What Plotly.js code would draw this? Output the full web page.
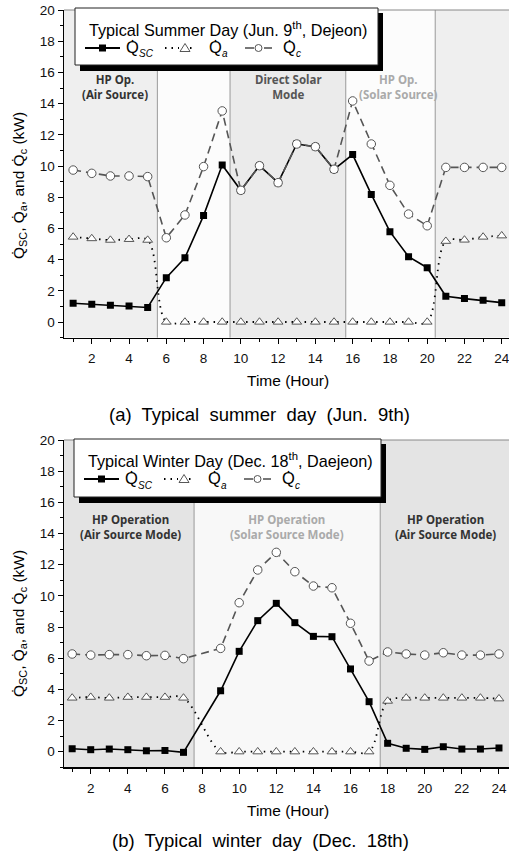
<!DOCTYPE html>
<html>
<head>
<meta charset="utf-8">
<script src="https://cdn.plot.ly/plotly-3.0.1.min.js"></script>
<style>html,body{margin:0;padding:0;background:#fff;}#chart{width:509px;height:858px;}</style>
</head>
<body>
<div id="chart"></div>
<script>
// ---------------- DATA ----------------
const summerHours = [1,2,3,4,5,6,7,8,9,10,11,12,13,14,15,16,17,18,19,20,21,22,23,24];
const summerQsc = [1.20,1.13,1.08,1.02,0.93,2.84,4.12,6.82,10.06,8.44,10.02,8.93,11.41,11.24,9.79,10.73,8.18,5.79,4.19,3.48,1.65,1.50,1.39,1.24];
const summerQa  = [5.45,5.35,5.25,5.30,5.25,0,0,0,0,0,0,0,0,0,0,0,0,0,0,0,5.18,5.26,5.45,5.53];
const summerQc  = [9.74,9.53,9.36,9.36,9.32,5.40,6.86,9.96,13.53,8.44,10.02,8.93,11.41,11.24,9.79,14.17,11.41,8.76,6.92,6.17,9.91,9.91,9.91,9.91];

const winterHours = [1,2,3,4,5,6,7,9,10,11,12,13,14,15,16,17,18,19,20,21,22,23,24];
const winterQsc = [0.19,0.13,0.17,0.13,0.06,0.08,-0.04,3.91,6.44,8.41,9.52,8.28,7.40,7.38,5.31,3.21,0.54,0.22,0.15,0.32,0.17,0.17,0.24];
const winterQa  = [3.45,3.50,3.45,3.50,3.50,3.50,3.45,0,0,0,0,0,0,0,0,0,3.25,3.45,3.45,3.45,3.45,3.45,3.40];
const winterQc  = [6.27,6.20,6.23,6.23,6.16,6.18,5.97,6.63,9.56,11.66,12.79,11.55,10.63,10.52,8.24,5.82,6.40,6.27,6.20,6.35,6.20,6.20,6.27];

const summerModes = [5.52, 9.42, 15.63, 20.43];   // mode switch hours
const winterModes = [7.57, 17.6];
const xTickVals = [2,4,6,8,10,12,14,16,18,20,22,24];

// ---------------- HELPERS ----------------
const W = 509, H = 858;
const PX = x => x / W;
const PY = y => 1 - y / H;
const FONT = 'Liberation Sans, Arial, sans-serif';
const BOLD = 'Noto Sans, Open Sans, sans-serif';
const Q = 'Q\u0307';

function series(xs, ys, xa, ya, kind) {
  const base = {x: xs, y: ys, xaxis: xa, yaxis: ya, mode: 'lines+markers', showlegend: false, hoverinfo: 'skip'};
  if (kind === 'sc') return Object.assign(base, {
    line: {color: '#000', width: 1.6},
    marker: {symbol: 'square', size: 7, color: '#000'}
  });
  if (kind === 'a') return Object.assign(base, {
    line: {color: '#000', width: 1.8, dash: '1.5px,5px', shape: 'spline', smoothing: 1},
    marker: {symbol: 'triangle-up', size: 8.5, color: '#fff', line: {color: '#444', width: 0.9}}
  });
  return Object.assign(base, {
    line: {color: '#555', width: 1.6, dash: '8px,5px'},
    marker: {symbol: 'circle', size: 8.5, color: '#fff', line: {color: '#555', width: 1}}
  });
}

const data = [
  series(summerHours, summerQsc, 'x', 'y', 'sc'),
  series(summerHours, summerQa, 'x', 'y', 'a'),
  series(summerHours, summerQc, 'x', 'y', 'c'),
  series(winterHours, winterQsc, 'x2', 'y2', 'sc'),
  series(winterHours, winterQa, 'x2', 'y2', 'a'),
  series(winterHours, winterQc, 'x2', 'y2', 'c')
];

const shapes = [];
const annotations = [];

function bands(xref, yref, edges, range, colors) {
  const pts = [range[0]].concat(edges).concat([range[1]]);
  for (let i = 0; i < pts.length - 1; i++) {
    shapes.push({type: 'rect', xref: xref, yref: yref + ' domain', x0: pts[i], x1: pts[i+1], y0: 0, y1: 1,
      fillcolor: colors[i], line: {width: 0}, layer: 'below'});
  }
  edges.forEach(e => shapes.push({type: 'line', xref: xref, yref: yref + ' domain', x0: e, x1: e, y0: 0, y1: 1,
    line: {color: '#999', width: 1}, layer: 'below'}));
  shapes.push({type: 'line', xref: xref + ' domain', yref: yref + ' domain', x0: 0, x1: 1, y0: 1, y1: 1,
    line: {color: '#888', width: 1}, layer: 'below'});
}

const rangeS = [0.51, 24.39];
const rangeW = [0.56, 24.54];
bands('x', 'y', summerModes, rangeS, ['#efefef', '#fcfcfc', '#ebebeb', '#fcfcfc', '#efefef']);
bands('x2', 'y2', winterModes, rangeW, ['#e4e4e4', '#f8f8f8', '#e4e4e4']);

function txt(text, x, y, size, opts) {
  annotations.push(Object.assign({text: text, x: PX(x), y: PY(y), xref: 'paper', yref: 'paper',
    showarrow: false, font: {family: FONT, size: size, color: '#000'}, xanchor: 'center', yanchor: 'middle'}, opts || {}));
}

// legend box drawn manually
function legendBox(bx, by, w, h, title) {
  shapes.push({type: 'rect', xref: 'paper', yref: 'paper', x0: PX(bx + 5), x1: PX(bx + w + 5), y0: PY(by + h + 6), y1: PY(by + 5),
    fillcolor: '#000', line: {width: 0}});
  shapes.push({type: 'rect', xref: 'paper', yref: 'paper', x0: PX(bx), x1: PX(bx + w), y0: PY(by + h), y1: PY(by),
    fillcolor: '#fff', line: {color: '#222', width: 1}});
  txt(title, bx + 12, by + 21, 16.2, {xanchor: 'left'});
  const ey = by + 40;
  // Q_SC sample
  shapes.push({type: 'line', xref: 'paper', yref: 'paper', x0: PX(bx + 10), x1: PX(bx + 45), y0: PY(ey), y1: PY(ey), line: {color: '#000', width: 1.8}});
  shapes.push({type: 'rect', xref: 'paper', yref: 'paper', x0: PX(bx + 24), x1: PX(bx + 31), y0: PY(ey + 3.5), y1: PY(ey - 3.5), fillcolor: '#000', line: {width: 0}});
  txt(Q, bx + 49, ey - 1, 16.5, {xanchor: 'left'});
  txt('SC', bx + 62, ey + 6, 10, {xanchor: 'left', font: {family: FONT, size: 10, color: '#000', style: 'italic'}});
  // Q_a sample
  shapes.push({type: 'line', xref: 'paper', yref: 'paper', x0: PX(bx + 90), x1: PX(bx + 104), y0: PY(ey), y1: PY(ey), line: {color: '#000', width: 1.8, dash: '1.5px,5px'}});
  shapes.push({type: 'line', xref: 'paper', yref: 'paper', x0: PX(bx + 115), x1: PX(bx + 121), y0: PY(ey), y1: PY(ey), line: {color: '#000', width: 1.8, dash: '1.5px,5px'}});
  shapes.push({type: 'path', xref: 'paper', yref: 'paper',
    path: 'M ' + PX(bx + 105) + ' ' + PY(ey + 3.5) + ' L ' + PX(bx + 115) + ' ' + PY(ey + 3.5) + ' L ' + PX(bx + 110) + ' ' + PY(ey - 4.5) + ' Z',
    fillcolor: '#fff', line: {color: '#444', width: 0.9}});
  txt(Q, bx + 132, ey - 1, 16.5, {xanchor: 'left'});
  txt('a', bx + 145, ey + 6, 10, {xanchor: 'left', font: {family: FONT, size: 10, color: '#000', style: 'italic'}});
  // Q_c sample
  shapes.push({type: 'line', xref: 'paper', yref: 'paper', x0: PX(bx + 170), x1: PX(bx + 179), y0: PY(ey), y1: PY(ey), line: {color: '#555', width: 1.6}});
  shapes.push({type: 'line', xref: 'paper', yref: 'paper', x0: PX(bx + 189), x1: PX(bx + 197), y0: PY(ey), y1: PY(ey), line: {color: '#555', width: 1.6}});
  shapes.push({type: 'circle', xref: 'paper', yref: 'paper', x0: PX(bx + 180), x1: PX(bx + 187), y0: PY(ey + 3.5), y1: PY(ey - 3.5), fillcolor: '#fff', line: {color: '#555', width: 1}});
  txt(Q, bx + 206, ey - 1, 16.5, {xanchor: 'left'});
  txt('c', bx + 219, ey + 6, 10, {xanchor: 'left', font: {family: FONT, size: 10, color: '#000', style: 'italic'}});
}

legendBox(75, 8, 303, 57, 'Typical Summer Day (Jun. 9<sup>th</sup>, Dejeon)');
legendBox(74, 439, 307, 58, 'Typical Winter Day (Dec. 18<sup>th</sup>, Daejeon)');

// mode labels
function mode(text, x, y, color) {
  annotations.push({text: text, x: PX(x), y: PY(y), xref: 'paper', yref: 'paper', showarrow: false,
    font: {family: BOLD, size: 11.5, color: color, weight: 'bold'}, align: 'center', xanchor: 'center', yanchor: 'middle'});
}
mode('<b>HP Op.</b><br><b>(Air Source)</b>', 115, 87, '#333');
mode('<b>Direct Solar</b><br><b>Mode</b>', 288, 87, '#555');
mode('<b>HP Op.</b><br><b>(Solar Source)</b>', 398, 87, '#aaa');
mode('<b>HP Operation</b><br><b>(Air Source Mode)</b>', 130, 527, '#333');
mode('<b>HP Operation</b><br><b>(Solar Source Mode)</b>', 287, 527, '#aaa');
mode('<b>HP Operation</b><br><b>(Air Source Mode)</b>', 445, 527, '#333');

// axis titles & captions
const yTitle = Q + '<sub>SC</sub>, ' + Q + '<sub>a</sub>, and ' + Q + '<sub>c</sub> (kW)';
txt(yTitle, 19, 186, 15.5, {textangle: -90});
txt(yTitle, 19, 624, 15.5, {textangle: -90});
txt('Time (Hour)', 288, 380, 15.5);
txt('Time (Hour)', 288, 810, 15.5);
txt('(a)\u00a0 Typical\u00a0 summer\u00a0 day\u00a0 (Jun.\u00a0 9th)', 259, 414, 18.5);
txt('(b)\u00a0 Typical\u00a0 winter\u00a0 day\u00a0 (Dec.\u00a0 18th)', 260, 840, 18.5);

function xax(range, anchor) {
  return {domain: [PX(64), 1], range: range, anchor: anchor, tickvals: xTickVals, ticks: 'outside', ticklen: 5, tickwidth: 1,
    tickcolor: '#000', showline: true, linecolor: '#000', linewidth: 1.5, showgrid: false, zeroline: false,
    tickfont: {family: FONT, size: 13.5, color: '#111'}, ticklabelstandoff: 3, ticklabeloverflow: 'allow',
    minor: {dtick: 1, tick0: 1, ticks: 'outside', ticklen: 3, tickwidth: 1, tickcolor: '#000', showgrid: false}};
}
function yax(dom, anchor) {
  return {domain: dom, range: [-1, 20], anchor: anchor, dtick: 2, tick0: 0, ticks: 'outside', ticklen: 5, tickwidth: 1,
    tickcolor: '#000', showline: true, linecolor: '#000', linewidth: 1.5, showgrid: false, zeroline: false,
    tickfont: {family: FONT, size: 13.5, color: '#111'}, ticklabeloverflow: 'allow',
    minor: {dtick: 1, ticks: 'outside', ticklen: 3, tickwidth: 1, tickcolor: '#000', showgrid: false}};
}

const layout = {
  width: W, height: H,
  margin: {l: 0, r: 0, t: 0, b: 0, pad: 0},
  paper_bgcolor: '#fff', plot_bgcolor: '#fff',
  showlegend: false,
  xaxis: xax(rangeS, 'y'),
  yaxis: yax([PY(337.6), PY(10)], 'x'),
  xaxis2: xax(rangeW, 'y2'),
  yaxis2: yax([PY(767.3), PY(440)], 'x2'),
  shapes: shapes,
  annotations: annotations,
  font: {family: FONT}
};

Plotly.newPlot('chart', data, layout, {displayModeBar: false, staticPlot: true});
</script>
</body>
</html>
